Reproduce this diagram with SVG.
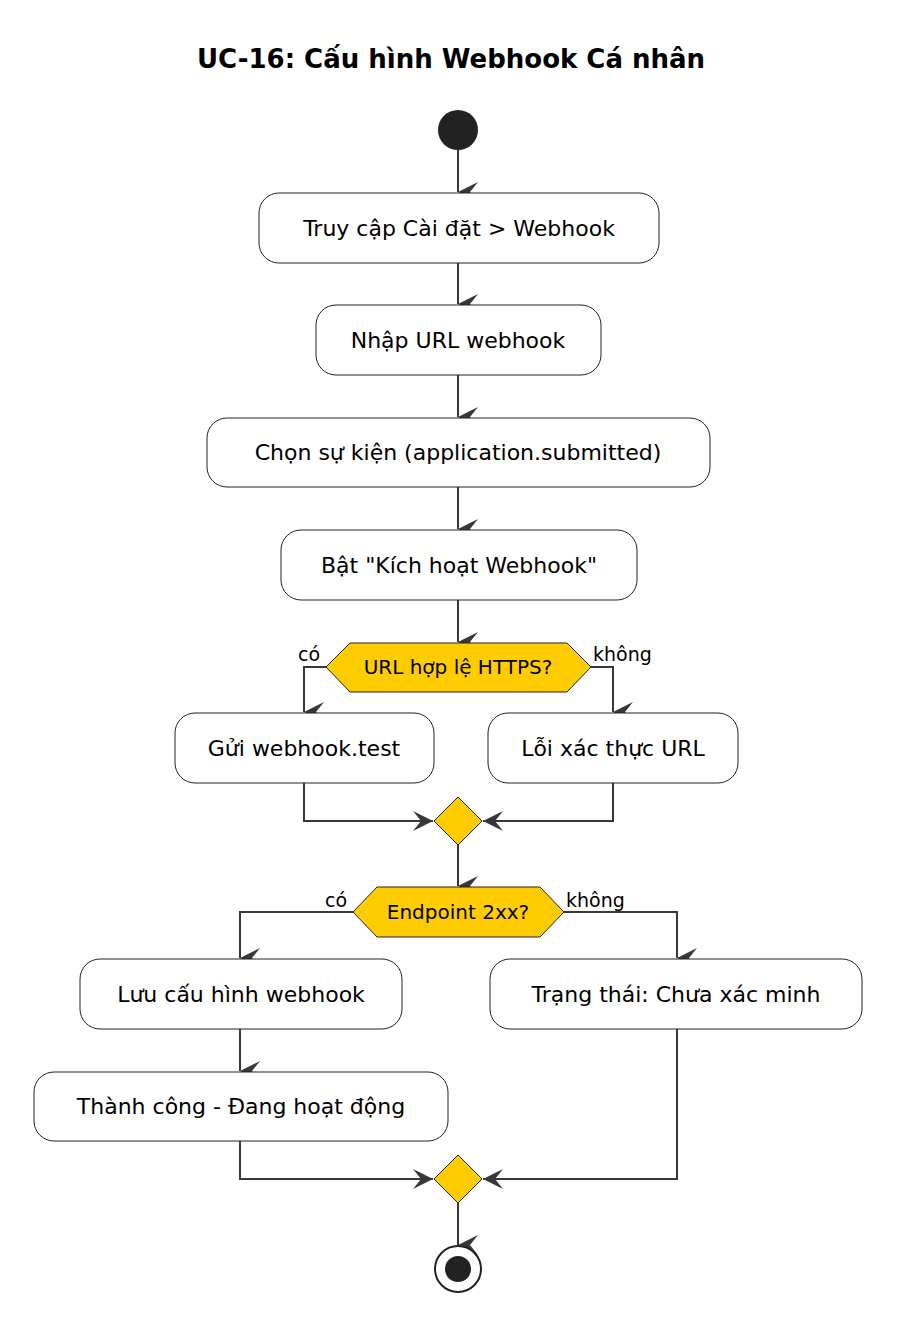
<svg xmlns="http://www.w3.org/2000/svg" width="903" height="1331" viewBox="0 0 903 1331">
<style>
.b{fill:#fff;stroke:#222;stroke-width:1}
.d{fill:#ffcc00;stroke:#222;stroke-width:1}
.t{font-family:"DejaVu Sans",sans-serif;font-size:22px;fill:#000;text-anchor:middle}
.s{font-family:"DejaVu Sans",sans-serif;font-size:20px;fill:#000;text-anchor:middle}
.l{font-family:"DejaVu Sans",sans-serif;font-size:19px;fill:#000}
.c{fill:none;stroke:#383838;stroke-width:2}
</style>
<defs>
<marker id="a" viewBox="0 0 20 20" refX="10" refY="20" markerWidth="20" markerHeight="20" markerUnits="userSpaceOnUse" orient="auto-start-reverse">
<path d="M0,0 L10,20 L20,0 L10,8 Z" fill="#383838" transform="rotate(0)"/>
</marker>
<marker id="r" viewBox="0 0 20 20" refX="20" refY="10" markerWidth="20" markerHeight="20" markerUnits="userSpaceOnUse">
<path d="M0,0 L20,10 L0,20 L8,10 Z" fill="#383838"/>
</marker>
<marker id="lft" viewBox="0 0 20 20" refX="0" refY="10" markerWidth="20" markerHeight="20" markerUnits="userSpaceOnUse">
<path d="M20,0 L0,10 L20,20 L12,10 Z" fill="#383838"/>
</marker>
</defs>
<text x="451" y="68" font-family="DejaVu Sans,sans-serif" font-size="26" font-weight="bold" text-anchor="middle">UC-16: Cấu hình Webhook Cá nhân</text>
<g id="connectors">
<path class="c" d="M458,150 V192" marker-end="url(#a)"/>
<path class="c" d="M458,263 V304" marker-end="url(#a)"/>
<path class="c" d="M458,375 V417" marker-end="url(#a)"/>
<path class="c" d="M458,487 V529" marker-end="url(#a)"/>
<path class="c" d="M458,600 V642" marker-end="url(#a)"/>
<path class="c" d="M326,667 H304 V712" marker-end="url(#a)"/>
<path class="c" d="M591,667 H613 V712" marker-end="url(#a)"/>
<path class="c" d="M304,783 V821 H433" marker-end="url(#r)"/>
<path class="c" d="M613,783 V821 H483" marker-end="url(#lft)"/>
<path class="c" d="M458,845 V886" marker-end="url(#a)"/>
<path class="c" d="M353,912 H240 V958" marker-end="url(#a)"/>
<path class="c" d="M564,912 H677 V958" marker-end="url(#a)"/>
<path class="c" d="M240,1029 V1071" marker-end="url(#a)"/>
<path class="c" d="M240,1141 V1179 H433" marker-end="url(#r)"/>
<path class="c" d="M677,1029 V1179 H483" marker-end="url(#lft)"/>
<path class="c" d="M458,1203 V1245" marker-end="url(#a)"/>
<text class="l" x="298" y="661">có</text>
<text class="l" x="593" y="661">không</text>
<text class="l" x="325" y="907">có</text>
<text class="l" x="566" y="907">không</text>
</g>
<g id="start"><circle cx="458" cy="130" r="20" fill="#222"/></g>
<g id="n1"><rect class="b" x="259" y="193" width="400" height="70" rx="20"/><text class="t" x="459" y="236">Truy cập Cài đặt &gt; Webhook</text></g>
<g id="n2"><rect class="b" x="316" y="305" width="285" height="70" rx="20"/><text class="t" x="458" y="348">Nhập URL webhook</text></g>
<g id="n3"><rect class="b" x="207" y="418" width="503" height="69" rx="20"/><text class="t" x="458" y="460">Chọn sự kiện (application.submitted)</text></g>
<g id="n4"><rect class="b" x="281" y="530" width="356" height="70" rx="20"/><text class="t" x="459" y="573">Bật "Kích hoạt Webhook"</text></g>
<g id="d1"><polygon class="d" points="326,667 350,643 567,643 591,667 567,692 350,692"/><text class="s" x="458" y="674">URL hợp lệ HTTPS?</text></g>
<g id="n5"><rect class="b" x="175" y="713" width="259" height="70" rx="20"/><text class="t" x="304" y="756">Gửi webhook.test</text></g>
<g id="n6"><rect class="b" x="488" y="713" width="250" height="70" rx="20"/><text class="t" x="613" y="756">Lỗi xác thực URL</text></g>
<g id="m1"><polygon class="d" points="458,797 482,821 458,845 434,821"/></g>
<g id="d2"><polygon class="d" points="353,912 377,887 540,887 564,912 540,937 377,937"/><text class="s" x="458" y="919">Endpoint 2xx?</text></g>
<g id="n7"><rect class="b" x="80" y="959" width="322" height="70" rx="20"/><text class="t" x="241" y="1002">Lưu cấu hình webhook</text></g>
<g id="n8"><rect class="b" x="34" y="1072" width="414" height="69" rx="20"/><text class="t" x="241" y="1114">Thành công - Đang hoạt động</text></g>
<g id="n9"><rect class="b" x="490" y="959" width="372" height="70" rx="20"/><text class="t" x="676" y="1002">Trạng thái: Chưa xác minh</text></g>
<g id="m2"><polygon class="d" points="458,1155 482,1179 458,1203 434,1179"/></g>
<g id="end"><circle cx="458" cy="1269" r="23" fill="#fff" stroke="#222" stroke-width="2"/><circle cx="458" cy="1269" r="13" fill="#222"/></g>
</svg>
